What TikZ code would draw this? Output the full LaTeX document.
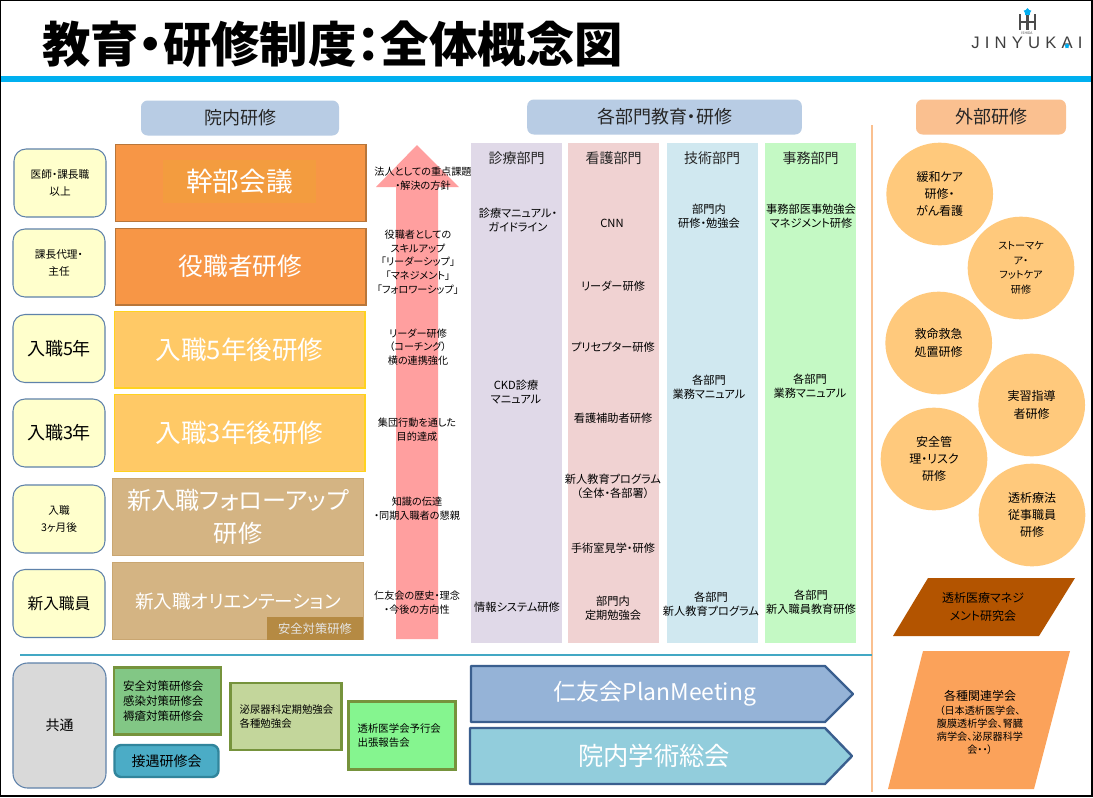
\documentclass[tikz,border=0pt]{standalone}
\usepackage{fontspec}
\setmainfont[RawFeature=+palt]{Noto Sans CJK JP}
\newfontfamily\logofont[LetterSpace=31]{Liberation Sans}
\usetikzlibrary{arrows,shapes.geometric}
\definecolor{hdrblue}{HTML}{B8CCE4}
\definecolor{hdrorange}{HTML}{FAC090}
\definecolor{rankfill}{HTML}{FFFFCC}
\definecolor{rankline}{HTML}{5F82AA}
\definecolor{circfill}{HTML}{FFC97C}
\definecolor{bandblue}{HTML}{00B0F0}
\definecolor{kenkyubrown}{HTML}{B35400}
\definecolor{gakkaiorange}{HTML}{FBA25A}
\tikzstyle{header}=[fill=#1,rounded corners=5pt,text=black!85,font=\fontsize{13.5}{16}\selectfont,inner sep=0pt,minimum height=26.25pt]
\tikzstyle{rankbox}=[draw=rankline,fill=rankfill,line width=0.8pt,rounded corners=9pt,minimum width=69pt,minimum height=51pt,align=center,inner sep=0pt]
\tikzstyle{mainbox}=[minimum width=188pt,minimum height=57.5pt,align=center,inner sep=0pt,text=white,line width=1pt]
\tikzstyle{deptcol}=[minimum width=68.25pt,minimum height=375pt,inner sep=0pt]
\tikzstyle{note}=[align=center,inner sep=0pt,font=\fontsize{7.6}{10.3}\selectfont]
\tikzstyle{depttext}=[align=center,inner sep=0pt,font=\fontsize{8.4}{10.6}\selectfont]
\tikzstyle{outer}=[ellipse,fill=circfill,minimum width=80pt,minimum height=77pt,inner sep=0pt,align=center,font=\fontsize{9}{13}\selectfont]
\tikzstyle{planbox}=[line width=1.8pt,draw=#1,inner sep=0pt,align=left]
\begin{document}
\begin{tikzpicture}[x=0.75pt,y=-0.75pt]
    \useasboundingbox (0,0) rectangle (1093,797);
    \fill[white] (0,0) rectangle (1093,797);
    % Title band and logo
    \draw[black,line width=1.1pt] (0.7,0.5) rectangle (1092,796);
    \fill[bandblue] (1,76) rectangle (1091,82);
    \node[inner sep=0pt,anchor=center,font=\fontsize{36.3}{42}\selectfont\bfseries] (title) at (332.5,44) {教育・研修制度：全体概念図};
    \node[inner sep=0pt,text=black!75,font=\logofont\fontsize{12.5}{14}\selectfont] (logo) at (1027,42.5) {JINYUKAI};
    \coordinate (hl) at (1020,14);
    \coordinate (hr) at (1035,14);
    \draw[black!70,line width=1.6pt] (hl) -- +(0,16) (hr) -- +(0,16) (1020,22) -- (1035,22) (1027.5,15) -- (1027.5,30);
    \node[star,fill=cyan,minimum size=6pt,inner sep=0pt] (logostar) at (1027.5,12) {};
    \node[star,fill=cyan,minimum size=4pt,inner sep=0pt] (logostar2) at (1067,46) {};
    \node[inner sep=0pt,text=black!70,font=\fontsize{2.6}{3}\selectfont] (logosub) at (1027,33) {ISHIDA};
    % Section headers
    \node[header=hdrblue,minimum width=148.5pt] (inhouse) at (240,118) {院内研修};
    \node[header=hdrblue,minimum width=206pt] (depts) at (664.5,117) {各部門教育・研修};
    \node[header=hdrorange,minimum width=112.5pt] (external) at (991,117) {外部研修};
    % Separators
    \draw[hdrorange,line width=1.5pt] (872,125) -- (872,792);
    \draw[rankline!70!cyan,line width=0.8pt] (20,655) -- (872,655);
    % Career stages on the left
    \foreach \pos/\name/\fs/\txt in {{(60,183)/rank1/8/{医師・課長職\\以上}}, {(59,263)/rank2/8/{課長代理・\\主任}}, {(59,348.5)/rank3/13.5/{入職5年}}, {(59,433)/rank4/13.5/{入職3年}}, {(59,519)/rank5/8/{入職\\3ヶ月後}}, {(59,603.5)/rank6/11.8/{新入職員}}}
        \node[rankbox,font=\fontsize{\fs}{12.5}\selectfont] (\name) at \pos {\txt};
    % In-house training bars
    \foreach \pos/\name/\fs/\fillc/\linec/\txt in {{(240.5,183)/bar1/20/F79646/B8763A/{}}, {(240.5,266.5)/bar2/18.5/F79646/B8763A/{役職者研修}}, {(239.5,349.5)/bar3/19.2/FFC966/FFD21F/{入職5年後研修}}, {(239.5,433)/bar4/19.2/FFC966/FFD21F/{入職3年後研修}}, {(238,517)/bar5/18.1/D4B483/C9A671/{新入職フォローアップ\\研修}}, {(238,601)/bar6/14/D4B483/C9A671/{新入職オリエンテーション}}}
    {
        \definecolor{barfill}{HTML}{\fillc}
        \definecolor{barline}{HTML}{\linec}
        \node[mainbox,fill=barfill,draw=barline,font=\fontsize{\fs}{24.5}\selectfont] (\name) at \pos {\txt};
    }
    \definecolor{innerfill}{HTML}{F39C3F}
    \node[fill=innerfill,minimum width=114.75pt,minimum height=32.25pt,inner sep=0pt,text=white,font=\fontsize{20}{24}\selectfont] (bar1text) at (239.5,181.5) {幹部会議};
    \definecolor{tagfill}{HTML}{B58A43}
    \node[fill=tagfill,minimum width=72pt,minimum height=17.25pt,inner sep=0pt,text=white!90!black,font=\fontsize{9.2}{10}\selectfont] (safetytag) at (315,628.5) {安全対策研修};
    % The big arrow behind the notes
    \definecolor{arrowpink}{HTML}{FF9F9F}
    \fill[arrowpink] (417,145) -- (459,187) -- (438,187) -- (438,639) -- (396,639) -- (396,187) -- (376,187) -- cycle;
    \foreach \pos/\name/\txt in {{(423,179)/note1/{法人としての重点課題\\・解決の方針}}, {(418,262)/note2/{役職者としての\\スキルアップ\\「リーダーシップ」\\「マネジメント」\\「フォロワーシップ」}}, {(418,347)/note3/{リーダー研修\\（コーチング）\\横の連携強化}}, {(417,430)/note4/{集団行動を通した\\目的達成}}, {(417,509)/note5/{知識の伝達\\・同期入職者の懇親}}, {(417,603)/note6/{仁友会の歴史・理念\\・今後の方向性}}}
        \node[note] (\name) at \pos {\txt};
    % Department columns
    \foreach \pos/\name/\fillc/\txt in {{(516.5,393)/col1/E0D9E8/診療部門}, {(613.5,393)/col2/F0D2D2/看護部門}, {(712,393)/col3/D0E8F0/技術部門}, {(810.5,393)/col4/C4F9C4/事務部門}}
    {
        \definecolor{colfill}{HTML}{\fillc}
        \node[deptcol,fill=colfill] (\name) at \pos {};
        \node[inner sep=0pt,text=black!85,font=\fontsize{10.5}{12}\selectfont] (\name head) at ([yshift=175.8pt]\name.center) {\txt};
    }
    \foreach \pos/\name/\txt in {{(518,220)/d1a/{診療マニュアル・\\ガイドライン}}, {(516,392)/d1b/{CKD診療\\マニュアル}}, {(517,607)/d1c/{情報システム研修}}, {(612,223)/d2a/{CNN}}, {(613,286)/d2b/{リーダー研修}}, {(613,347)/d2c/{プリセプター研修}}, {(613,418)/d2d/{看護補助者研修}}, {(613,486)/d2e/{新人教育プログラム\\（全体・各部署）}}, {(613,548)/d2f/{手術室見学・研修}}, {(613,608)/d2g/{部門内\\定期勉強会}}, {(709,216)/d3a/{部門内\\研修・勉強会}}, {(709,387)/d3b/{各部門\\業務マニュアル}}, {(711,604)/d3c/{各部門\\新人教育プログラム}}, {(811,216)/d4a/{事務部医事勉強会\\マネジメント研修}}, {(810,386)/d4b/{各部門\\業務マニュアル}}, {(811,602)/d4c/{各部門\\新入職員教育研修}}}
        \node[depttext] (\name) at \pos {\txt};
    % External training
    \foreach \pos/\name/\txt in {{(939.7,194)/ext1/{緩和ケア\\研修・\\がん看護}}, {(938.7,343)/ext3/{救命救急\\処置研修}}, {(1031.7,405)/ext4/{実習指導\\者研修}}, {(934,459)/ext5/{安全管\\理・リスク\\研修}}, {(1032,515)/ext6/{透析療法\\従事職員\\研修}}}
        \node[outer] (\name) at \pos {\txt};
    \node[outer,font=\fontsize{7.6}{11}\selectfont] (ext2) at (1021,268) {ストーマケ\\ア・\\フットケア\\研修};
    \fill[kenkyubrown] (928,578) -- (1075,578) -- (1039,636) -- (893,636) -- cycle;
    \node[inner sep=0pt,align=center,font=\fontsize{9}{13}\selectfont] (kenkyukai) at (983,607) {透析医療マネジ\\メント研究会};
    \fill[gakkaiorange] (923,651) -- (1070,651) -- (1034,789) -- (888,789) -- cycle;
    \node[inner sep=0pt,align=center,font=\fontsize{9}{13}\selectfont] (gakkai) at (980,696) {各種関連学会};
    \node[inner sep=0pt,align=center,font=\fontsize{7.6}{9.6}\selectfont] (gakkai2) at (980,730) {（日本透析医学会、\\腹膜透析学会、腎臓\\病学会、泌尿器科学\\会・・）};
    % Common training along the bottom
    \definecolor{boxolive}{HTML}{76933C}
    \definecolor{commongray}{HTML}{D9D9D9}
    \node[draw=rankline,fill=commongray,line width=0.8pt,rounded corners=11pt,minimum width=69.75pt,minimum height=93.75pt,inner sep=0pt,font=\fontsize{10.5}{12}\selectfont] (common) at (59.5,725.5) {共通};
    \foreach \pos/\name/\fillc/\w/\h/\fs/\txt in {{(167.5,701)/plan1/82C785/80/50.5/8.6/{安全対策研修会\\感染対策研修会\\褥瘡対策研修会}}, {(286,716.5)/plan2/C3D69B/83/50/7.8/{泌尿器科定期勉強会\\各種勉強会}}, {(402,735.5)/plan3/85F58F/80/51/7.8/{透析医学会予行会\\出張報告会}}}
    {
        \definecolor{planfill}{HTML}{\fillc}
        \node[planbox=boxolive,fill=planfill,minimum width=\w pt,minimum height=\h pt,font=\fontsize{\fs}{11}\selectfont,text width=\w pt-13.5pt] (\name) at \pos {\txt};
    }
    \definecolor{hospfill}{HTML}{4BACC6}
    \definecolor{hospline}{HTML}{31859C}
    \node[draw=hospline,fill=hospfill,line width=1.8pt,rounded corners=5pt,minimum width=78pt,minimum height=24pt,inner sep=0pt,font=\fontsize{10.5}{12}\selectfont] (hospitality) at (166.5,761) {接遇研修会};
    \definecolor{arrowline}{HTML}{3A5F8F}
    \definecolor{planblue}{HTML}{95B3D7}
    \definecolor{planteal}{HTML}{92CDDC}
    \draw[arrowline,fill=planblue,line width=1.8pt,line join=round] (471,666) -- (825,666) -- (853,694) -- (825,722) -- (471,722) -- cycle;
    \node[inner sep=0pt,text=white,font=\fontsize{17.2}{22}\selectfont] (planmeeting) at (655,694) {仁友会PlanMeeting};
    \draw[arrowline,fill=planteal,line width=1.8pt,line join=round] (470,728) -- (825,728) -- (852,756) -- (825,784) -- (470,784) -- cycle;
    \node[inner sep=0pt,text=white,font=\fontsize{19}{22}\selectfont] (soukai) at (654,756) {院内学術総会};
\end{tikzpicture}
\end{document}
